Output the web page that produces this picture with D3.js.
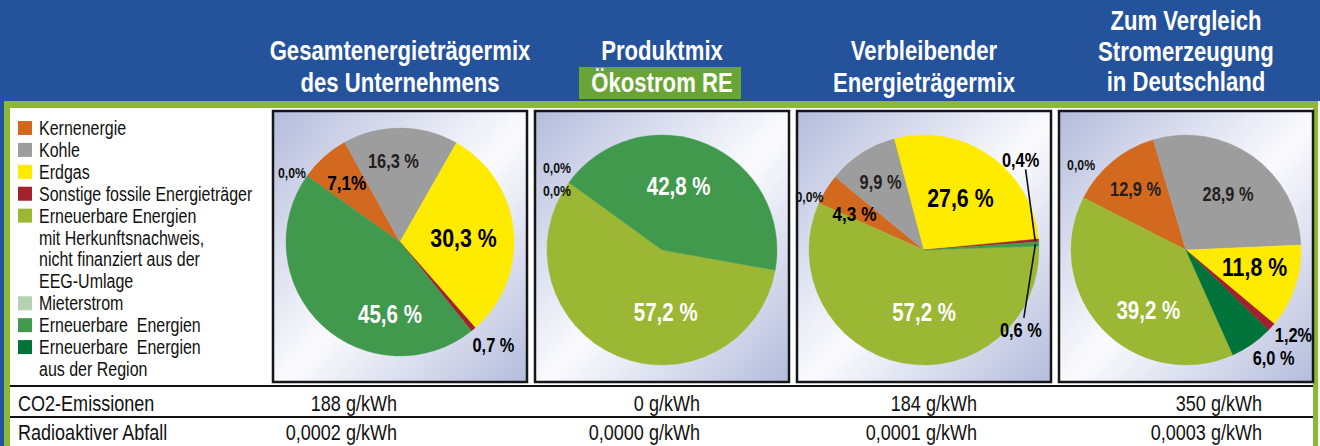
<!DOCTYPE html>
<html lang="de">
<head>
<meta charset="UTF-8">
<script src="https://cdnjs.cloudflare.com/ajax/libs/d3/7.8.5/d3.min.js"></script>
<title>Energieträgermix</title>
<style>
  body { margin: 0; background: #fff; }
  svg { display: block; font-family: "Liberation Sans", Arial, sans-serif; }
  .head { fill: #fff; font-weight: bold; font-size: 27px; }
  .leg { fill: #111; font-size: 19.5px; white-space: pre; }
  .tab { fill: #111; font-size: 22px; }
  .lbl-big { fill: #000; font-weight: bold; font-size: 26px; }
  .lbl-white { fill: #fff; font-weight: bold; font-size: 25px; }
  .lbl-mid { fill: #231f20; font-weight: bold; font-size: 20px; }
  .lbl-dark { fill: #000; font-weight: bold; font-size: 21px; }
  .lbl-out { fill: #000; font-weight: bold; font-size: 20px; }
  .lbl-zero { fill: #111; font-weight: bold; font-size: 15px; }
</style>
</head>
<body>
<svg id="chart" width="1320" height="446"></svg>
<script>
// legend / categories
var categories = ["Kernenergie", "Kohle", "Erdgas", "Sonstige fossile Energieträger",
    "Erneuerbare Energien mit Herkunftsnachweis, nicht finanziert aus der EEG-Umlage",
    "Mieterstrom", "Erneuerbare Energien", "Erneuerbare Energien aus der Region"];
var legendLines = [["Kernenergie"], ["Kohle"], ["Erdgas"], ["Sonstige fossile Energieträger"],
    ["Erneuerbare Energien", "mit Herkunftsnachweis,", "nicht finanziert aus der", "EEG-Umlage"],
    ["Mieterstrom"], ["Erneuerbare  Energien"], ["Erneuerbare  Energien", "aus der Region"]];
var colors = ["#d2691f", "#9d9d9d", "#ffeb00", "#a3212b", "#9bb733", "#b4d3b0", "#41994e", "#00733a"];
// order of the slices going clockwise (Kern, Kohle, Erdgas, Sonstige, Region, EE, HKN, Mieter)
var drawOrder = [0, 1, 2, 3, 7, 6, 4, 5];

// the four mixes, values in legend order (%)
var mixTitles = [["Gesamtenergieträgermix", "des Unternehmens"], ["Produktmix", "Ökostrom RE"],
    ["Verbleibender", "Energieträgermix"], ["Zum Vergleich", "Stromerzeugung", "in Deutschland"]];
var mixUnternehmen = [7.1, 16.3, 30.3, 0.7, 0, 0, 45.6, 0];
var mixOekostrom = [0, 0, 0, 0, 57.2, 0, 42.8, 0];
var mixVerbleibend = [4.3, 9.9, 27.6, 0.4, 57.2, 0, 0.6, 0];
var mixDeutschland = [12.9, 28.9, 11.8, 1.2, 39.2, 0, 0, 6.0];

// table below the pies
var rowLabels = ["CO2-Emissionen", "Radioaktiver Abfall"];
var co2 = [188, 0, 184, 350];
var radioaktiv = [0.0002, 0, 0.0001, 0.0003];

// ---- layout (not data) ----
var W = 1320, H = 446;
var NARROW = 0.82;   // squeeze text horizontally, no condensed font installed
var startDeg = [-54.6, -54, -66, -63];
var pieR = [114, 115, 115, 115];
var pieCy = [242, 250, 250, 250];
var valueRight = [397, 700, 977, 1262];
// label placement per pie: [category, radius factor, dx, dy, style, space before %]
var labelSpec = [
    [[0, 0.70, 0, 0, "dark", false], [1, 0.71, -7, 0, "mid", true], [2, 0.56, 0, 2, "big", true],
     [3, 1.22, 4, -4, "out", true], [6, 0.64, 40, 19, "white", true], [5, 1.13, -3, 5, "zero", false]],
    [[6, 0.57, -9, -3, "white", true], [4, 0.54, 28, 5, "white", true],
     [5, 1.14, 1, -5, "zero", false], [0, 1.14, 1, 18, "zero", false]],
    [[0, 0.69, -2, 5, "dark", true], [1, 0.70, 0, 0, "mid", true], [2, 0.555, 0, 0, "big", true],
     [3, 1.0, -18, -80, "out", false], [6, 1.0, -18, 86, "out", true],
     [4, 0.54, 12, 1, "white", true], [5, 1.10, 1, -2, "zero", false]],
    [[0, 0.686, 0, 0, "mid", true], [1, 0.60, 2, 0, "mid", true], [2, 0.62, 1, -6, "big", true],
     [3, 1.19, 6, -7, "out", false], [7, 1.21, 8, -6, "out", true],
     [4, 0.62, 14, 11, "white", true], [5, 1.17, 15, -24, "zero", false]]
];
// leader lines (pie 3): [category, end offset from label centre]
var leaders = {2: [[3, 5, 9], [6, 3, -12]]};

var svg = d3.select("#chart");

// text helper: squeezed horizontally around its anchor point
function txt(parent, px, py, s, cls, anchor) {
    return parent.append("text").attr("class", cls)
        .attr("transform", "translate(" + px + "," + py + ") scale(" + NARROW + ",1)")
        .attr("text-anchor", anchor || "start")
        .text(s);
}

var defs = svg.append("defs");
var grad = defs.append("linearGradient").attr("id", "boxbg")
    .attr("x1", 0).attr("y1", 0).attr("x2", 1).attr("y2", 1);
grad.append("stop").attr("offset", 0).attr("stop-color", "#b4bcdc");
grad.append("stop").attr("offset", 0.52).attr("stop-color", "#fbfbfe");
grad.append("stop").attr("offset", 1).attr("stop-color", "#b4bcdc");

// frame
svg.append("rect").attr("width", W).attr("height", H).attr("fill", "#24539c");
svg.append("rect").attr("x", 4).attr("y", 101).attr("width", 1314).attr("height", H).attr("fill", "#8cb935");
svg.append("rect").attr("x", 1318).attr("y", 101).attr("width", 2).attr("height", H).attr("fill", "#f4f6fb");
svg.append("rect").attr("x", 10).attr("y", 108).attr("width", 1303).attr("height", H).attr("fill", "#fff");

var x = d3.scaleBand().domain(d3.range(4)).range([273, 1313]).paddingInner(0.0305);

// headers
mixTitles.forEach(function (lines, p) {
    var cx = x(p) + x.bandwidth() / 2;
    var base = lines.length === 3 ? [30, 61, 91] : [60, 92];
    if (p === 1) {
        svg.append("rect").attr("x", cx - 83).attr("y", 67).attr("width", 162).attr("height", 32)
            .attr("fill", "#69a535");
    }
    lines.forEach(function (t, i) { txt(svg, cx, base[i], t, "head", "middle"); });
});

// legend
var lineY = d3.scaleLinear().domain([0, 11]).range([128, 369]);
var row = 0;
legendLines.forEach(function (lines, c) {
    var g = svg.append("g");
    g.append("rect").attr("x", 18).attr("y", lineY(row) - 7).attr("width", 14).attr("height", 14)
        .attr("fill", colors[c]);
    lines.forEach(function (t, j) { txt(g, 39, lineY(row + j) + 7, t, "leg"); });
    row += lines.length;
});

// pies
var rank = {};
drawOrder.forEach(function (c, i) { rank[c] = i; });
var fmt = function (v, sp) { return v.toFixed(1).replace(".", ",") + (sp ? " %" : "%"); };
var mixes = [mixUnternehmen, mixOekostrom, mixVerbleibend, mixDeutschland];

mixes.forEach(function (vals, p) {
    var bx = x(p), bw = x.bandwidth();
    var cx = bx + bw / 2, cy = pieCy[p], r = pieR[p];
    svg.append("rect").attr("x", bx).attr("y", 111).attr("width", bw).attr("height", 271)
        .attr("fill", "url(#boxbg)").attr("stroke", "#161616").attr("stroke-width", 2.5);

    var a0 = startDeg[p] * Math.PI / 180;
    var pie = d3.pie().value(function (d) { return d.value; })
        .sort(function (a, b) { return rank[a.cat] - rank[b.cat]; })
        .startAngle(a0).endAngle(a0 + 2 * Math.PI);
    var arcs = pie(vals.map(function (v, i) { return {cat: i, value: v}; }));
    var byCat = {};
    arcs.forEach(function (a) { byCat[a.data.cat] = a; });

    var g = svg.append("g").attr("transform", "translate(" + cx + "," + cy + ")");
    var arc = d3.arc().innerRadius(0).outerRadius(r);
    g.selectAll("path").data(arcs.filter(function (a) { return a.value > 0; })).enter().append("path")
        .attr("d", arc)
        .attr("fill", function (a) { return colors[a.data.cat]; })
        .attr("stroke", function (a) { return colors[a.data.cat]; })
        .attr("stroke-width", 0.4);

    var pts = {};
    labelSpec[p].forEach(function (s) {
        var a = byCat[s[0]];
        var c = d3.arc().innerRadius(r * s[1]).outerRadius(r * s[1]).centroid(a);
        var px = c[0] + s[2], py = c[1] + s[3];
        pts[s[0]] = [px, py];
        txt(g, px, py, fmt(vals[s[0]], s[5]), "lbl-" + s[4], "middle").attr("dy", "0.35em");
    });

    (leaders[p] || []).forEach(function (l) {
        var a = byCat[l[0]];
        var c = d3.arc().innerRadius(r * 0.97).outerRadius(r * 0.97).centroid(a);
        var lp = pts[l[0]];
        g.append("line").attr("x1", c[0]).attr("y1", c[1])
            .attr("x2", lp[0] + l[1]).attr("y2", lp[1] + l[2])
            .attr("stroke", "#111").attr("stroke-width", 1.6);
    });
});

// table
[386, 417].forEach(function (y) {
    svg.append("line").attr("x1", 10).attr("x2", 1313).attr("y1", y).attr("y2", y)
        .attr("stroke", "#111").attr("stroke-width", 2);
});
var rowBase = [411, 440];
rowLabels.forEach(function (t, i) { txt(svg, 18, rowBase[i], t, "tab"); });
co2.forEach(function (d, i) { txt(svg, valueRight[i], rowBase[0], d + " g/kWh", "tab", "end"); });
radioaktiv.forEach(function (d, i) {
    txt(svg, valueRight[i], rowBase[1], d.toFixed(4).replace(".", ",") + " g/kWh", "tab", "end");
});
</script>
</body>
</html>
